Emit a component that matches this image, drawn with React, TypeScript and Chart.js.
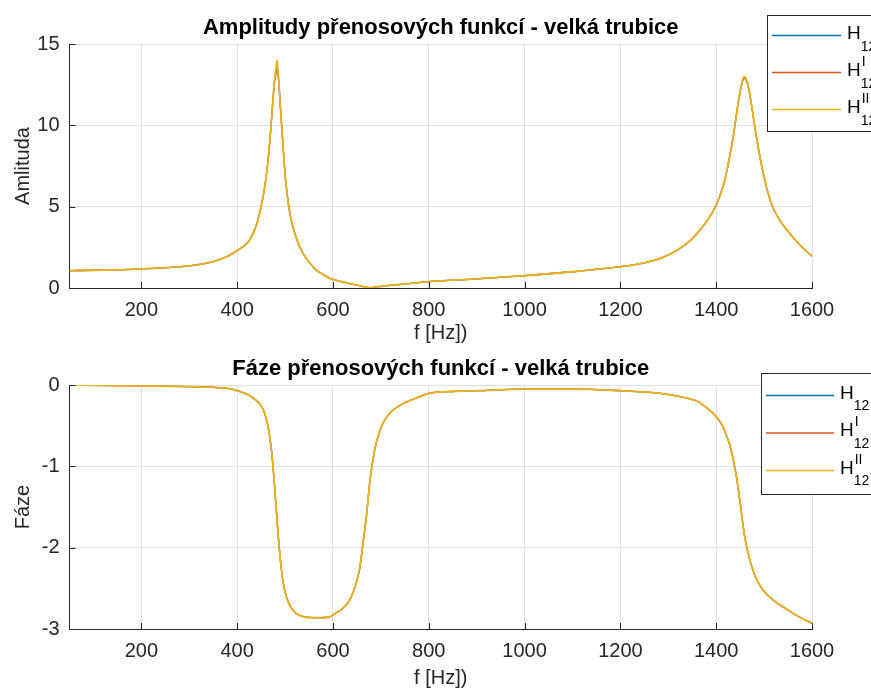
import React, { useEffect, useRef } from "react";
import { Chart, registerables } from "chart.js";

Chart.register(...registerables);

// ---------- DATA ----------
const freqAmp = [50, 100, 150, 200, 250, 300, 350, 380, 400, 415, 426, 440, 450, 458, 464, 470, 474, 478, 481, 483, 486, 488, 491, 495, 500, 505, 510, 516, 525, 537, 550, 565, 580, 593, 620, 650, 680, 700, 750, 800, 900, 1000, 1100, 1200, 1250, 1290, 1320, 1343, 1360, 1380, 1400, 1415, 1425, 1435, 1445, 1452, 1458, 1462, 1468, 1475, 1485, 1495, 1505, 1515, 1530, 1555, 1580, 1600];
const ampH12 = [1.07, 1.09, 1.12, 1.17, 1.25, 1.36, 1.62, 1.95, 2.3, 2.6, 2.95, 3.85, 5.0, 6.3, 7.7, 9.7, 11.3, 12.7, 13.3, 13.6, 13.0, 12.2, 10.8, 9.1, 7.0, 5.6, 4.6, 3.8, 2.95, 2.15, 1.6, 1.1, 0.82, 0.6, 0.38, 0.18, 0.02, 0.1, 0.24, 0.39, 0.56, 0.76, 1.0, 1.31, 1.55, 1.9, 2.35, 2.85, 3.35, 4.1, 5.1, 6.3, 7.6, 9.2, 11.2, 12.3, 12.9, 12.8, 12.2, 11.0, 9.1, 7.5, 6.2, 5.2, 4.3, 3.3, 2.5, 1.95];
const ampH12I = [1.07, 1.09, 1.12, 1.17, 1.25, 1.36, 1.62, 1.95, 2.3, 2.6, 2.95, 3.85, 5.0, 6.3, 7.7, 9.7, 11.3, 12.7, 13.2, 13.4, 12.9, 12.2, 10.8, 9.1, 7.0, 5.6, 4.6, 3.8, 2.95, 2.15, 1.6, 1.1, 0.82, 0.6, 0.38, 0.18, 0.02, 0.1, 0.24, 0.39, 0.56, 0.76, 1.0, 1.31, 1.55, 1.9, 2.35, 2.85, 3.35, 4.1, 5.1, 6.3, 7.6, 9.2, 11.2, 12.4, 12.9, 12.8, 12.3, 11.0, 9.1, 7.5, 6.2, 5.2, 4.3, 3.3, 2.5, 1.95];
const ampH12II = [1.07, 1.09, 1.12, 1.17, 1.25, 1.36, 1.62, 1.95, 2.3, 2.6, 2.95, 3.85, 5.0, 6.3, 7.7, 9.7, 11.3, 12.8, 13.5, 14.0, 13.1, 12.2, 10.8, 9.1, 7.0, 5.6, 4.6, 3.8, 2.95, 2.15, 1.6, 1.1, 0.82, 0.6, 0.38, 0.18, 0.02, 0.1, 0.24, 0.39, 0.56, 0.76, 1.0, 1.31, 1.55, 1.9, 2.35, 2.85, 3.35, 4.1, 5.1, 6.3, 7.6, 9.2, 11.2, 12.4, 13.0, 12.9, 12.3, 11.0, 9.1, 7.5, 6.2, 5.2, 4.3, 3.3, 2.5, 1.95];

const freqPhase = [50, 100, 200, 300, 350, 384, 400, 426, 440, 447, 455, 461, 466, 472, 478, 485, 492, 499, 509, 523, 540, 558, 575, 593, 607, 618, 628, 637, 645, 651, 656, 663, 670, 677, 684, 690, 697, 705, 715, 725, 746, 774, 802, 850, 900, 1000, 1100, 1200, 1280, 1330, 1360, 1380, 1400, 1413, 1420, 1428, 1435, 1440, 1446, 1450, 1455, 1460, 1468, 1480, 1495, 1520, 1543, 1570, 1600];
const phaseH12 = [0, -0.005, -0.01, -0.02, -0.03, -0.045, -0.07, -0.13, -0.19, -0.23, -0.31, -0.42, -0.56, -0.82, -1.23, -1.8, -2.25, -2.52, -2.7, -2.81, -2.85, -2.86, -2.86, -2.85, -2.8, -2.76, -2.7, -2.62, -2.5, -2.38, -2.25, -1.93, -1.6, -1.19, -0.9, -0.72, -0.58, -0.46, -0.37, -0.31, -0.23, -0.16, -0.1, -0.08, -0.07, -0.05, -0.05, -0.07, -0.1, -0.15, -0.2, -0.28, -0.39, -0.5, -0.6, -0.73, -0.9, -1.05, -1.27, -1.45, -1.68, -1.88, -2.1, -2.33, -2.5, -2.65, -2.74, -2.84, -2.93];
const phaseH12I = [0, -0.005, -0.01, -0.02, -0.03, -0.045, -0.07, -0.13, -0.19, -0.23, -0.31, -0.42, -0.56, -0.82, -1.23, -1.8, -2.25, -2.52, -2.7, -2.81, -2.85, -2.86, -2.86, -2.85, -2.8, -2.76, -2.7, -2.62, -2.5, -2.38, -2.25, -1.93, -1.6, -1.19, -0.9, -0.72, -0.58, -0.46, -0.37, -0.31, -0.23, -0.16, -0.1, -0.08, -0.07, -0.05, -0.05, -0.07, -0.1, -0.15, -0.2, -0.28, -0.39, -0.5, -0.6, -0.73, -0.9, -1.05, -1.27, -1.45, -1.68, -1.88, -2.1, -2.33, -2.5, -2.65, -2.74, -2.84, -2.93];
const phaseH12II = [0, -0.005, -0.01, -0.02, -0.03, -0.045, -0.07, -0.13, -0.19, -0.23, -0.31, -0.42, -0.56, -0.82, -1.23, -1.8, -2.25, -2.52, -2.7, -2.81, -2.85, -2.86, -2.86, -2.85, -2.8, -2.76, -2.7, -2.62, -2.5, -2.38, -2.25, -1.93, -1.6, -1.19, -0.9, -0.72, -0.58, -0.46, -0.37, -0.31, -0.23, -0.16, -0.1, -0.08, -0.07, -0.05, -0.05, -0.07, -0.1, -0.15, -0.2, -0.28, -0.39, -0.5, -0.6, -0.73, -0.9, -1.05, -1.27, -1.45, -1.68, -1.88, -2.1, -2.33, -2.5, -2.65, -2.74, -2.84, -2.93];

const xTicks = [200, 400, 600, 800, 1000, 1200, 1400, 1600];
const ampTicks = [0, 5, 10, 15];
const phaseTicks = [-3, -2, -1, 0];

const seriesNames = ["H12", "H12^I", "H12^II"];
const legendMain = ["H", "H", "H"];
const legendSub = ["12", "12", "12"];
const legendSup = ["", "I", "II"];
const seriesColors = ["#0072BD", "#D95319", "#EDB120"];

const titleAmp = "Amplitudy přenosových funkcí - velká trubice";
const titlePhase = "Fáze přenosových funkcí - velká trubice";
const xLabel = "f [Hz])";
const yLabelAmp = "Amlituda";
const yLabelPhase = "Fáze";

// ---------- STYLE ----------
const FONT = '"Liberation Sans", Arial, Helvetica, sans-serif';
const AXIS_COLOR = "#262626";
const GRID_COLOR = "#e1e1e1";

const decorPlugin = {
  id: "decor",
  afterDraw(chart: any, _args: any, opts: any) {
    const ctx = chart.ctx as CanvasRenderingContext2D;
    const { left, right, bottom } = chart.chartArea;
    const xs = chart.scales.x;
    const ys = chart.scales.y;
    ctx.save();
    // inward ticks
    ctx.strokeStyle = AXIS_COLOR;
    ctx.lineWidth = 1;
    ctx.beginPath();
    xs.ticks.forEach((t: any) => {
      const px = Math.round(xs.getPixelForValue(t.value)) + 0.5;
      ctx.moveTo(px, bottom);
      ctx.lineTo(px, bottom - 6);
    });
    ys.ticks.forEach((t: any) => {
      const py = Math.round(ys.getPixelForValue(t.value)) + 0.5;
      ctx.moveTo(left, py);
      ctx.lineTo(left + 6, py);
    });
    ctx.stroke();

    // title
    ctx.fillStyle = "#000";
    ctx.font = `bold 22px ${FONT}`;
    ctx.textAlign = "center";
    ctx.textBaseline = "middle";
    ctx.fillText(opts.title, (left + right) / 2, opts.titleY);

    // legend
    const L = opts.legend;
    const w = chart.width - L.left + 20;
    ctx.fillStyle = "#fff";
    ctx.fillRect(L.left, L.top, w, L.height);
    ctx.strokeStyle = AXIS_COLOR;
    ctx.lineWidth = 1;
    ctx.strokeRect(L.left, L.top, w, L.height);
    ctx.textAlign = "left";
    ctx.textBaseline = "alphabetic";
    chart.data.datasets.forEach((ds: any, i: number) => {
      const ly = L.firstY + i * L.spacing;
      ctx.strokeStyle = ds.borderColor;
      ctx.lineWidth = 1.3;
      ctx.beginPath();
      ctx.moveTo(L.lineX0, ly + 0.5);
      ctx.lineTo(L.lineX1, ly + 0.5);
      ctx.stroke();
      const base = ly + L.textDy;
      ctx.fillStyle = "#000";
      ctx.font = `19px ${FONT}`;
      const main = legendMain[i];
      ctx.fillText(main, L.textX, base);
      const mw = ctx.measureText(main).width;
      ctx.font = `14px ${FONT}`;
      ctx.fillText(legendSub[i], L.textX + mw, base + 11.5);
      if (legendSup[i]) ctx.fillText(legendSup[i], L.textX + mw + 1, base - 10);
    });
    ctx.restore();
  },
};

function makeConfig(
  freq: number[],
  series: number[][],
  yMin: number,
  yMax: number,
  yTicks: number[],
  yLabel: string,
  layoutPad: any,
  xAxisHeight: number,
  tickPad: number,
  decor: any
) {
  return {
    type: "line",
    data: {
      datasets: series.map((vals, i) => ({
        label: seriesNames[i],
        data: freq.map((f, k) => ({ x: f, y: vals[k] })),
        borderColor: seriesColors[i],
        backgroundColor: seriesColors[i],
        borderWidth: i === 2 ? 1.8 : 1.3,
        pointRadius: 0,
        fill: false,
        cubicInterpolationMode: "monotone",
        order: 2 - i,
      })),
    },
    options: {
      responsive: false,
      animation: false,
      layout: { padding: layoutPad },
      plugins: {
        legend: { display: false },
        title: { display: false },
        tooltip: { enabled: false },
        decor,
      },
      scales: {
        x: {
          type: "linear",
          min: 50,
          max: 1600,
          afterBuildTicks: (s: any) => {
            s.ticks = xTicks.map((v) => ({ value: v }));
          },
          afterFit: (s: any) => {
            s.height = xAxisHeight;
          },
          grid: { color: GRID_COLOR, drawTicks: false, lineWidth: 1 },
          border: { display: true, color: AXIS_COLOR, width: 1 },
          ticks: {
            autoSkip: false,
            maxRotation: 0,
            padding: tickPad,
            color: AXIS_COLOR,
            font: { family: FONT, size: 20 },
            callback: (v: any) => String(v),
          },
          title: {
            display: true,
            text: xLabel,
            color: AXIS_COLOR,
            font: { family: FONT, size: 20 },
            padding: { top: 0, bottom: 0 },
          },
        },
        y: {
          type: "linear",
          min: yMin,
          max: yMax,
          afterBuildTicks: (s: any) => {
            s.ticks = yTicks.map((v) => ({ value: v }));
          },
          afterFit: (s: any) => {
            s.width = 69.5;
          },
          grid: { color: GRID_COLOR, drawTicks: false, lineWidth: 1 },
          border: { display: true, color: AXIS_COLOR, width: 1 },
          ticks: {
            padding: 10,
            color: AXIS_COLOR,
            font: { family: FONT, size: 20 },
            callback: (v: any) => String(v),
          },
          title: {
            display: true,
            text: yLabel,
            color: AXIS_COLOR,
            font: { family: FONT, size: 20 },
            padding: { top: 11, bottom: 0 },
          },
        },
      },
    },
    plugins: [decorPlugin],
  } as any;
}

export default function App() {
  const topRef = useRef<HTMLCanvasElement>(null);
  const botRef = useRef<HTMLCanvasElement>(null);

  useEffect(() => {
    const c1 = new Chart(
      topRef.current!,
      makeConfig(
        freqAmp,
        [ampH12, ampH12I, ampH12II],
        0,
        15,
        ampTicks,
        yLabelAmp,
        { top: 44, right: 59, left: 0, bottom: 4 },
        57,
        10,
        {
          title: titleAmp,
          titleY: 28,
          legend: { left: 767.5, top: 15.5, height: 116, firstY: 35, spacing: 37, lineX0: 772, lineX1: 841, textX: 847, textDy: 4 },
        }
      )
    );
    const c2 = new Chart(
      botRef.current!,
      makeConfig(
        freqPhase,
        [phaseH12, phaseH12I, phaseH12II],
        -3,
        0,
        phaseTicks,
        yLabelPhase,
        { top: 36, right: 59, left: 0, bottom: 3 },
        61,
        10,
        {
          title: titlePhase,
          titleY: 20,
          legend: { left: 761.5, top: 24.5, height: 121, firstY: 46, spacing: 37.5, lineX0: 766, lineX1: 834, textX: 840, textDy: 3.5 },
        }
      )
    );
    return () => {
      c1.destroy();
      c2.destroy();
    };
  }, []);

  return (
    <div style={{ position: "fixed", left: 0, top: 0, width: 871, height: 693, background: "#fff", overflow: "hidden" }}>
      <canvas ref={topRef} width={871} height={349} style={{ position: "absolute", left: 0, top: 0, width: 871, height: 349 }} />
      <canvas ref={botRef} width={871} height={344} style={{ position: "absolute", left: 0, top: 349, width: 871, height: 344 }} />
    </div>
  );
}
